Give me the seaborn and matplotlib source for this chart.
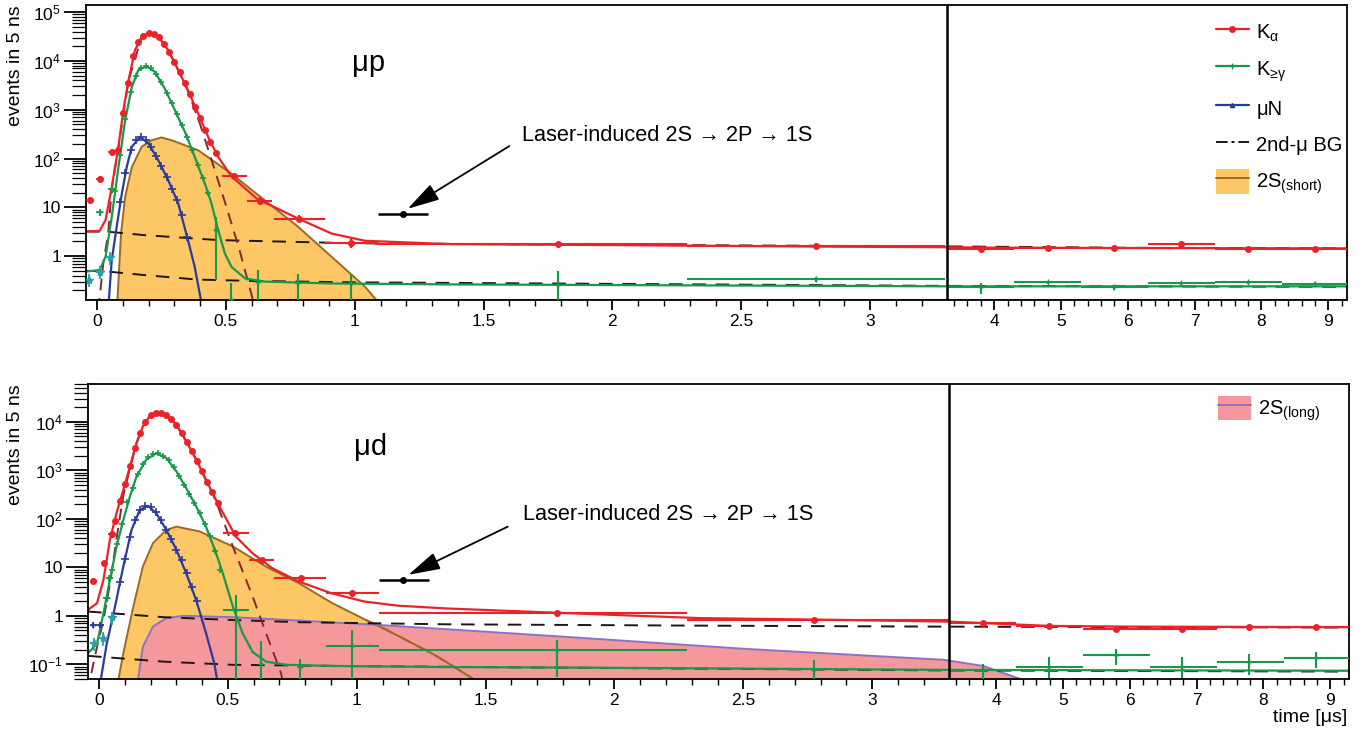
import numpy as np
import matplotlib
matplotlib.use("Agg")
import matplotlib.pyplot as plt
from matplotlib.lines import Line2D
from matplotlib.patches import Patch
from matplotlib.ticker import FixedLocator, FixedFormatter, NullFormatter, LogLocator
import seaborn as sns

sns.set_theme(style="ticks")
plt.rcParams['font.family'] = ['Liberation Sans', 'DejaVu Sans']
plt.rcParams['mathtext.fontset'] = 'custom'
plt.rcParams['mathtext.rm'] = 'Liberation Sans'
plt.rcParams['mathtext.it'] = 'Liberation Sans:italic'
plt.rcParams['text.color'] = 'black'
plt.rcParams['axes.edgecolor'] = 'black'
plt.rcParams['xtick.color'] = 'black'
plt.rcParams['ytick.color'] = 'black'

RED = '#ec2229'
GREEN = '#16994a'
BLUE = '#2b3b99'
CYAN = '#2a9fae'
DKRED = '#8b2430'
BGCOL = '#201414'
ORANGE = '#fdc766'
ORANGE_EDGE = '#9a6a22'
PINK = '#f4989b'
PINK_EDGE = '#8f70c4'

# ---------------- mu p (top) ----------------
p_ka_fit_x = [-0.043, 0.01, 0.033, 0.057, 0.083, 0.102, 0.122, 0.147, 0.173, 0.205, 0.237, 0.276,
              0.315, 0.353, 0.392, 0.431, 0.47, 0.52, 0.62, 0.78, 0.91, 1.04, 1.37, 2.0, 2.77, 3.3,
              4.0, 6.0, 9.3]
p_ka_fit_y = [3.2, 3.3, 5.5, 26, 174, 980, 4000, 16600, 31000, 38400, 32000, 16600,
              6500, 2500, 840, 277, 108, 44, 15, 5.9, 2.9, 2.06, 1.76, 1.68, 1.57, 1.52,
              1.49, 1.46, 1.44]
p_kg_fit_x = [-0.043, 0.01, 0.033, 0.057, 0.083, 0.109, 0.135, 0.16, 0.192, 0.224, 0.263, 0.302,
              0.341, 0.379, 0.418, 0.444, 0.47, 0.496, 0.522, 0.574, 0.652, 0.91, 1.37, 2.0, 3.3,
              5.0, 9.3]
p_kg_fit_y = [0.48, 0.52, 0.97, 6.4, 67, 610, 2940, 6500, 7800, 6000, 2700, 980,
              350, 108, 31, 12, 3.4, 1.13, 0.6, 0.35, 0.30, 0.275, 0.263, 0.255, 0.24,
              0.24, 0.24]
p_mun_fit_x = [0.043, 0.057, 0.076, 0.096, 0.115, 0.135, 0.167, 0.2, 0.237, 0.276, 0.315, 0.353,
               0.379, 0.41]
p_mun_fit_y = [0.08, 0.83, 4.0, 19, 67, 174, 277, 203, 93, 36, 12, 2.1, 0.6, 0.08]
p_prompt_x = [0.005, 0.024, 0.043, 0.057, 0.083, 0.122, 0.173, 0.205, 0.237, 0.276, 0.315, 0.353,
              0.40, 0.45, 0.50, 0.55, 0.615]
p_prompt_y = [0.08, 0.71, 2.9, 24, 170, 3950, 30900, 38300, 31900, 16500, 6400, 2400,
              500, 75, 11, 1.5, 0.08]
p_bg_hi_x = [-0.043, 0.045, 0.18, 0.47, 1.0, 2.0, 3.3, 6.0, 9.3]
p_bg_hi_y = [3.2, 3.15, 2.7, 2.13, 1.83, 1.7, 1.58, 1.48, 1.44]
p_bg_lo_x = [-0.043, 0.045, 0.18, 0.39, 0.6, 1.0, 2.0, 3.3, 9.3]
p_bg_lo_y = [0.5, 0.48, 0.41, 0.33, 0.31, 0.29, 0.27, 0.245, 0.235]
p_short_x = [0.078, 0.093, 0.109, 0.135, 0.173, 0.212, 0.25, 0.289, 0.392, 0.52, 0.65, 0.78,
             0.91, 1.04, 1.1]
p_short_y = [0.1, 2.9, 16.4, 67, 174, 237, 270, 237, 148, 49.5, 14, 4, 0.97, 0.235, 0.1]

p_ka_pk_x = [0.08, 0.10, 0.12, 0.14, 0.16, 0.18, 0.20, 0.22, 0.24, 0.26, 0.28, 0.30, 0.32, 0.34,
             0.36, 0.38, 0.40, 0.42, 0.44, 0.46]
p_ka_pk_y = [150, 850, 3600, 12500, 24000, 33000, 38000, 36000, 31000, 22000, 15000, 9500, 5800,
             3500, 2100, 1150, 680, 380, 220, 130]
p_kg_pk_x = [0.07, 0.09, 0.11, 0.13, 0.15, 0.17, 0.19, 0.21, 0.23, 0.25, 0.27, 0.29, 0.31, 0.33,
             0.35, 0.37, 0.39, 0.41, 0.43]
p_kg_pk_y = [22, 120, 650, 2300, 5000, 7000, 7900, 7200, 5400, 3700, 2200, 1350, 800, 480,
             270, 150, 75, 40, 20]
p_mun_pk_x = [0.09, 0.11, 0.13, 0.15, 0.17, 0.19, 0.21, 0.23, 0.25, 0.27, 0.29, 0.31, 0.33, 0.35]
p_mun_pk_y = [13, 50, 150, 240, 275, 240, 170, 110, 70, 42, 24, 14, 7, 2.5]

p_ka_early_x = [-0.028, 0.01, 0.057]
p_ka_early_y = [14, 38, 133]
p_kg_early_x = [0.01, 0.057]
p_kg_early_y = [7.9, 23.6]
p_cy_x = [-0.03, 0.01, 0.05]
p_cy_y = [0.33, 0.48, 0.95]

p_ka_bin_x = [0.53, 0.634, 0.784, 0.985, 1.787, 2.79, 3.80, 4.80, 5.80, 6.80, 7.80, 8.80]
p_ka_bin_y = [44, 13.4, 5.7, 1.82, 1.8, 1.6, 1.37, 1.46, 1.5, 1.79, 1.41, 1.37]
p_ka_bin_lo = [0.483, 0.583, 0.686, 0.884, 1.08, 2.29, 3.3, 4.3, 5.3, 6.3, 7.3, 8.3]
p_ka_bin_hi = [0.58, 0.68, 0.884, 1.085, 2.29, 3.29, 4.3, 5.3, 6.3, 7.3, 8.3, 9.3]
p_ka_bin_ylo = [38, 11.2, 4.9, 1.5, 1.7, 1.5, 1.28, 1.38, 1.42, 1.7, 1.33, 1.28]
p_ka_bin_yhi = [51, 16, 6.8, 2.3, 1.9, 1.7, 1.46, 1.54, 1.58, 1.88, 1.49, 1.46]

p_kg_bin_x = [0.46, 0.52, 0.625, 0.78, 0.985, 1.787, 2.79, 3.80, 4.81, 5.80, 6.80, 7.80, 8.80]
p_kg_bin_y = [3.4, 0.13, 0.29, 0.28, 0.28, 0.255, 0.338, 0.235, 0.289, 0.228, 0.28, 0.289, 0.27]
p_kg_bin_lo = [0.455, 0.515, 0.62, 0.775, 0.98, 1.78, 2.29, 3.3, 4.3, 5.3, 6.3, 7.3, 8.3]
p_kg_bin_hi = [0.465, 0.525, 0.63, 0.785, 0.99, 1.79, 3.29, 4.3, 5.3, 6.3, 7.3, 8.3, 9.3]
p_kg_bin_ylo = [0.32, 0.05, 0.05, 0.05, 0.05, 0.05, 0.3, 0.17, 0.27, 0.2, 0.26, 0.27, 0.25]
p_kg_bin_yhi = [6.4, 0.28, 0.53, 0.44, 0.44, 0.5, 0.37, 0.28, 0.31, 0.26, 0.3, 0.31, 0.29]

p_laser = (1.187, 7.15, 1.09, 1.285)

# ---------------- mu d (bottom) ----------------
d_ka_fit_x = [-0.043, -0.008, 0.017, 0.042, 0.068, 0.094, 0.12, 0.145, 0.17, 0.196, 0.228, 0.261,
              0.3, 0.338, 0.377, 0.415, 0.454, 0.492, 0.531, 0.595, 0.672, 0.775, 0.9, 1.03,
              1.16, 1.35, 1.81, 2.33, 2.84, 3.3, 3.8, 4.8, 6.0, 9.3]
d_ka_fit_y = [1.33, 1.83, 5.5, 37, 133, 395, 1200, 3630, 8000, 12900, 15800, 13800,
              8700, 4000, 1660, 640, 245, 103, 43, 19.6, 9.6, 5.1, 2.94, 1.97,
              1.62, 1.42, 1.14, 0.9, 0.83, 0.76, 0.71, 0.62, 0.6, 0.585]
d_kg_fit_x = [-0.043, -0.008, 0.017, 0.042, 0.068, 0.094, 0.12, 0.145, 0.183, 0.222, 0.261, 0.3,
              0.338, 0.377, 0.415, 0.454, 0.48, 0.519, 0.557, 0.596, 0.648, 0.725, 0.9, 1.35,
              2.0, 3.3, 9.3]
d_kg_fit_y = [0.17, 0.27, 1.13, 5.5, 27, 95, 290, 740, 1660, 2250, 1800, 950,
              430, 180, 69, 19.6, 7.6, 1.56, 0.44, 0.18, 0.114, 0.098, 0.093, 0.088,
              0.085, 0.077, 0.074]
d_mun_fit_x = [0.0, 0.03, 0.062, 0.094, 0.126, 0.158, 0.19, 0.222, 0.261, 0.3, 0.338, 0.377,
               0.415, 0.447, 0.465]
d_mun_fit_y = [0.03, 0.27, 1.56, 10.4, 59, 153, 185, 130, 59, 23, 7.6, 2.1, 0.44, 0.106, 0.03]
d_prompt_x = [-0.03, -0.008, 0.017, 0.042, 0.068, 0.094, 0.12, 0.145, 0.17, 0.196, 0.228, 0.261,
              0.3, 0.338, 0.377, 0.415, 0.454, 0.519, 0.596, 0.648, 0.706, 0.72]
d_prompt_y = [0.066, 0.23, 0.83, 4.5, 40, 300, 1100, 3600, 8000, 12900, 15800, 13800,
              8700, 4000, 1650, 620, 230, 27, 2.5, 0.44, 0.066, 0.03]
d_bg_hi_x = [-0.043, 0.25, 0.52, 0.78, 1.35, 2.3, 3.28, 9.3]
d_bg_hi_y = [1.23, 0.94, 0.82, 0.74, 0.67, 0.63, 0.60, 0.575]
d_bg_lo_x = [-0.043, 0.25, 0.52, 1.0, 3.3, 9.3]
d_bg_lo_y = [0.15, 0.114, 0.098, 0.092, 0.075, 0.071]
d_short_x = [0.068, 0.094, 0.133, 0.17, 0.209, 0.261, 0.3, 0.39, 0.519, 0.647, 0.776, 0.905,
             1.034, 1.12, 1.29, 1.35, 1.466]
d_short_y = [0.03, 0.17, 1.56, 10.4, 31.5, 59, 69, 55, 27, 10.4, 4.7, 1.83,
             0.83, 0.5, 0.17, 0.11, 0.045]
d_long_x = [0.145, 0.17, 0.209, 0.261, 0.326, 0.519, 0.776, 1.085, 1.35, 1.81, 2.5, 3.28, 3.8, 4.46]
d_long_y = [0.03, 0.23, 0.6, 0.9, 1.0, 0.94, 0.8, 0.65, 0.53, 0.37, 0.21, 0.124, 0.093, 0.045]

d_ka_pk_x = [0.06, 0.08, 0.10, 0.12, 0.14, 0.16, 0.18, 0.20, 0.22, 0.24, 0.26, 0.28, 0.30, 0.32,
             0.34, 0.36, 0.38, 0.40, 0.42, 0.44, 0.46]
d_ka_pk_y = [90, 230, 520, 1200, 2900, 6000, 10000, 13500, 15500, 15500, 14000, 11500, 8700, 6000,
             3900, 2500, 1550, 950, 570, 350, 210]
d_kg_pk_x = [0.05, 0.07, 0.09, 0.11, 0.13, 0.15, 0.17, 0.19, 0.21, 0.23, 0.25, 0.27, 0.29, 0.31,
             0.33, 0.35, 0.37, 0.39, 0.41, 0.43, 0.45, 0.47]
d_kg_pk_y = [9, 30, 80, 220, 430, 850, 1350, 1850, 2200, 2250, 2000, 1600, 1150, 750,
             500, 320, 210, 130, 80, 45, 22, 9]
d_mun_pk_x = [0.08, 0.10, 0.12, 0.14, 0.16, 0.18, 0.20, 0.22, 0.24, 0.26, 0.28, 0.30, 0.32, 0.34,
              0.36, 0.38]
d_mun_pk_y = [5, 15, 42, 95, 155, 185, 175, 135, 95, 60, 38, 23, 14, 7.5, 4, 2]

d_ka_early_x = [-0.022, 0.021, 0.049]
d_ka_early_y = [5.3, 12, 48]
d_kg_early_x = [0.03, 0.04]
d_kg_early_y = [2.3, 6]
d_mun_early_x = [-0.022, 0.005]
d_mun_early_y = [0.65, 0.65]
d_cy_x = [-0.02, 0.015, 0.05]
d_cy_y = [0.27, 0.35, 0.94]

d_ka_bin_x = [0.529, 0.631, 0.783, 0.982, 1.776, 2.776, 3.80, 4.79, 5.79, 6.78, 7.78, 8.78]
d_ka_bin_y = [50, 14, 5.9, 3.0, 1.17, 0.83, 0.707, 0.62, 0.547, 0.547, 0.60, 0.60]
d_ka_bin_lo = [0.48, 0.58, 0.68, 0.88, 1.085, 2.28, 3.3, 4.3, 5.3, 6.3, 7.3, 8.3]
d_ka_bin_hi = [0.58, 0.68, 0.88, 1.085, 2.28, 3.3, 4.3, 5.3, 6.3, 7.3, 8.3, 9.3]
d_ka_bin_ylo = [44, 12.3, 5.3, 2.7, 1.1, 0.79, 0.67, 0.59, 0.52, 0.52, 0.57, 0.57]
d_ka_bin_yhi = [56, 15.8, 6.5, 3.3, 1.24, 0.87, 0.74, 0.65, 0.57, 0.57, 0.63, 0.63]

d_kg_bin_x = [0.53, 0.63, 0.78, 0.98, 1.776, 2.776, 3.80, 4.79, 5.79, 6.78, 7.78, 8.78]
d_kg_bin_y = [1.33, 0.1, 0.09, 0.244, 0.2, 0.077, 0.077, 0.088, 0.157, 0.09, 0.114, 0.134]
d_kg_bin_lo = [0.48, 0.625, 0.775, 0.88, 1.085, 2.775, 3.795, 4.3, 5.3, 6.3, 7.3, 8.3]
d_kg_bin_hi = [0.58, 0.635, 0.785, 1.085, 2.28, 2.78, 3.805, 5.3, 6.3, 7.3, 8.3, 9.3]
d_kg_bin_ylo = [0.03, 0.03, 0.03, 0.03, 0.056, 0.048, 0.05, 0.052, 0.098, 0.052, 0.061, 0.083]
d_kg_bin_yhi = [2.7, 0.3, 0.13, 0.51, 0.32, 0.124, 0.1, 0.14, 0.206, 0.14, 0.165, 0.184]

d_laser = (1.18, 5.5, 1.085, 1.28)

# ---------------- broken time axis ----------------
BRK = 3.3
SQ = 66.8 / 257.6


def fwd(x):
    x = np.asarray(x, dtype=float)
    return np.where(x <= BRK, x, BRK + (x - BRK) * SQ)


def inv(u):
    u = np.asarray(u, dtype=float)
    return np.where(u <= BRK, u, BRK + (u - BRK) / SQ)


FLOOR = 1e-3


def fit(ax, x, y, color, lw=1.4, ls='-'):
    sns.lineplot(x=x, y=y, ax=ax, color=color, lw=lw, linestyle=ls,
                 estimator=None, errorbar=None, sort=False, legend=False)


def binned(ax, x, y, lo, hi, ylo, yhi, color, marker, ms):
    x = np.array(x); y = np.array(y)
    xerr = [x - np.array(lo), np.array(hi) - x]
    yerr = [y - np.array(ylo), np.array(yhi) - y]
    ax.errorbar(x, y, xerr=xerr, yerr=yerr, fmt=marker, color=color, ms=ms,
                elinewidth=1.5, capsize=0, zorder=4)


def dense(ax, x, y, color, marker, ms, mew=1.0):
    ax.plot(x, y, marker, color=color, ms=ms, mew=mew, zorder=4)


def early(ax, x, y, color, marker, ms, dx=0.014, rel=0.15):
    y = np.array(y)
    ax.errorbar(x, y, xerr=dx, yerr=[y * rel, y * rel], fmt=marker, color=color, ms=ms,
                elinewidth=1.3, capsize=0, zorder=4)


def style_axes(ax, ymin, ymax, yticks, ylabels):
    ax.set_xscale('function', functions=(fwd, inv))
    ax.set_yscale('log')
    ax.set_xlim(-0.043, 9.28)
    ax.set_ylim(ymin, ymax)
    major = [0, 0.5, 1, 1.5, 2, 2.5, 3, 4, 5, 6, 7, 8, 9]
    minor = [v for v in np.round(np.arange(0.1, 3.25, 0.1), 2) if v not in major]
    minor += [v for v in np.round(np.arange(3.4, 9.25, 0.2), 2) if v not in major]
    ax.xaxis.set_major_locator(FixedLocator(major))
    ax.xaxis.set_major_formatter(FixedFormatter(['0', '0.5', '1', '1.5', '2', '2.5', '3',
                                                 '4', '5', '6', '7', '8', '9']))
    ax.xaxis.set_minor_locator(FixedLocator(minor))
    ax.xaxis.set_minor_formatter(NullFormatter())
    ax.yaxis.set_major_locator(FixedLocator(yticks))
    ax.yaxis.set_major_formatter(FixedFormatter(ylabels))
    ax.yaxis.set_minor_locator(LogLocator(base=10, subs=np.arange(2, 10), numticks=30))
    ax.yaxis.set_minor_formatter(NullFormatter())
    ax.tick_params(axis='x', which='major', direction='out', length=7, width=1.3,
                   labelsize=12.5, pad=3, top=False)
    ax.tick_params(axis='x', which='minor', direction='out', length=4, width=1.0, top=False)
    ax.tick_params(axis='y', which='major', direction='out', length=16, width=1.3,
                   labelsize=12.5, pad=2, right=False)
    ax.tick_params(axis='y', which='minor', direction='out', length=10, width=0.9, right=False)
    for s in ax.spines.values():
        s.set_visible(True)
        s.set_color('black')
        s.set_linewidth(1.3)
    ax.axvline(BRK, color='black', lw=1.8, zorder=6)
    ax.set_xlabel('')
    ax.set_ylabel('')


LEG = dict(frameon=False, fontsize=14.5, handlelength=1.65, handleheight=1.5,
           handletextpad=0.35, borderaxespad=0, borderpad=0)

fig = plt.figure(figsize=(13.67, 7.34), dpi=100)
W, H = 1367.0, 734.0
ax1 = fig.add_axes([86 / W, 1 - 300 / H, 1261 / W, 295 / H])
ax2 = fig.add_axes([88 / W, 1 - 679 / H, 1261 / W, 295 / H])

# ---- top panel: mu p ----
ax = ax1
ax.fill_between(p_short_x, p_short_y, FLOOR, color=ORANGE, lw=0, zorder=1)
fit(ax, p_short_x, p_short_y, ORANGE_EDGE, lw=1.4)
ax.axhline(0.128, color=PINK_EDGE, lw=1.5, zorder=1)
fit(ax, p_bg_hi_x, p_bg_hi_y, BGCOL, lw=1.4, ls=(0, (7, 5)))
fit(ax, p_bg_lo_x, p_bg_lo_y, BGCOL, lw=1.4, ls=(0, (7, 5)))
fit(ax, p_prompt_x, p_prompt_y, DKRED, lw=1.4, ls=(0, (6, 4)))
fit(ax, p_mun_fit_x, p_mun_fit_y, BLUE, lw=1.6)
fit(ax, p_kg_fit_x, p_kg_fit_y, GREEN, lw=1.6)
fit(ax, p_ka_fit_x, p_ka_fit_y, RED, lw=1.6)
dense(ax, p_ka_pk_x, p_ka_pk_y, RED, 'o', 4)
dense(ax, p_kg_pk_x, p_kg_pk_y, GREEN, '+', 5, 1.2)
dense(ax, p_mun_pk_x, p_mun_pk_y, BLUE, '+', 6, 1.2)
early(ax, p_ka_early_x, p_ka_early_y, RED, 'o', 4)
early(ax, p_kg_early_x, p_kg_early_y, GREEN, '+', 5)
early(ax, p_cy_x, p_cy_y, CYAN, '*', 6, rel=0.3)
binned(ax, p_ka_bin_x, p_ka_bin_y, p_ka_bin_lo, p_ka_bin_hi, p_ka_bin_ylo, p_ka_bin_yhi, RED, 'o', 4)
binned(ax, p_kg_bin_x, p_kg_bin_y, p_kg_bin_lo, p_kg_bin_hi, p_kg_bin_ylo, p_kg_bin_yhi, GREEN, '+', 4)
ax.errorbar([p_laser[0]], [p_laser[1]], xerr=[[p_laser[0] - p_laser[2]], [p_laser[3] - p_laser[0]]],
            fmt='o', color='black', ms=4, elinewidth=1.8, capsize=0, zorder=5)
ax.annotate('', xy=(1.205, 9.3), xytext=(1.6, 180),
            arrowprops=dict(arrowstyle='-|>,head_length=1.1,head_width=0.3', color='black',
                            lw=1.3, shrinkA=0, shrinkB=0, mutation_scale=18))
ax.text(1.65, 300, 'Laser-induced 2S \u2192 2P \u2192 1S', fontsize=15.7, va='center', ha='left')
ax.text(0.99, 9000, '\u03bcp', fontsize=21, va='center', ha='left')
style_axes(ax, 0.126, 1.4e5, [1, 10, 100, 1e3, 1e4, 1e5],
           ['1', '10', '10$^{\\mathregular{2}}$', '10$^{\\mathregular{3}}$',
            '10$^{\\mathregular{4}}$', '10$^{\\mathregular{5}}$'])

handles = [
    Line2D([], [], color=RED, lw=1.6, marker='o', ms=4),
    Line2D([], [], color=GREEN, lw=1.6, marker='+', ms=5),
    Line2D([], [], color=BLUE, lw=1.6, marker='^', ms=3),
    Line2D([], [], color=BGCOL, lw=1.4, ls=(0, (6, 2, 1.5, 2, 6, 3))),
    (Patch(facecolor=ORANGE, edgecolor='none'), Line2D([], [], color=ORANGE_EDGE, lw=1.4)),
]
labels = ['K$_{\\mathregular{\u03b1}}$', 'K$_{\\mathregular{\u2265\u03b3}}$', '\u03bcN',
          '2nd-\u03bc BG', '2S$_{\\mathregular{(short)}}$']
ax.legend(handles, labels, loc='upper left', bbox_to_anchor=(0.896, 0.95),
          labelspacing=0.6, **LEG)

# ---- bottom panel: mu d ----
ax = ax2
ax.fill_between(d_short_x, d_short_y, FLOOR, color=ORANGE, lw=0, zorder=1)
fit(ax, d_short_x, d_short_y, ORANGE_EDGE, lw=1.4)
ax.fill_between(d_long_x, d_long_y, FLOOR, color=PINK, lw=0, zorder=1.5)
fit(ax, d_long_x, d_long_y, PINK_EDGE, lw=1.4)
mask = np.array(d_short_x) >= 1.03
fit(ax, list(np.array(d_short_x)[mask]), list(np.array(d_short_y)[mask]), ORANGE_EDGE,
    lw=1.4, ls=(0, (6, 4)))
fit(ax, d_bg_hi_x, d_bg_hi_y, BGCOL, lw=1.4, ls=(0, (7, 5)))
fit(ax, d_bg_lo_x, d_bg_lo_y, BGCOL, lw=1.4, ls=(0, (7, 5)))
fit(ax, d_prompt_x, d_prompt_y, DKRED, lw=1.4, ls=(0, (6, 4)))
fit(ax, d_mun_fit_x, d_mun_fit_y, BLUE, lw=1.6)
fit(ax, d_kg_fit_x, d_kg_fit_y, GREEN, lw=1.6)
fit(ax, d_ka_fit_x, d_ka_fit_y, RED, lw=1.6)
dense(ax, d_ka_pk_x, d_ka_pk_y, RED, 'o', 4)
dense(ax, d_kg_pk_x, d_kg_pk_y, GREEN, '+', 5, 1.2)
dense(ax, d_mun_pk_x, d_mun_pk_y, BLUE, '+', 6, 1.2)
early(ax, d_ka_early_x, d_ka_early_y, RED, 'o', 4)
early(ax, d_kg_early_x, d_kg_early_y, GREEN, '+', 5)
early(ax, d_mun_early_x, d_mun_early_y, BLUE, '+', 5)
early(ax, d_cy_x, d_cy_y, CYAN, '*', 6, rel=0.3)
binned(ax, d_ka_bin_x, d_ka_bin_y, d_ka_bin_lo, d_ka_bin_hi, d_ka_bin_ylo, d_ka_bin_yhi, RED, 'o', 4)
binned(ax, d_kg_bin_x, d_kg_bin_y, d_kg_bin_lo, d_kg_bin_hi, d_kg_bin_ylo, d_kg_bin_yhi, GREEN, '+', 4)
ax.errorbar([d_laser[0]], [d_laser[1]], xerr=[[d_laser[0] - d_laser[2]], [d_laser[3] - d_laser[0]]],
            fmt='o', color='black', ms=4, elinewidth=1.8, capsize=0, zorder=5)
ax.annotate('', xy=(1.2, 7.0), xytext=(1.586, 69),
            arrowprops=dict(arrowstyle='-|>,head_length=1.1,head_width=0.3', color='black',
                            lw=1.3, shrinkA=0, shrinkB=0, mutation_scale=18))
ax.text(1.647, 120, 'Laser-induced 2S \u2192 2P \u2192 1S', fontsize=15.7, va='center', ha='left')
ax.text(0.99, 3000, '\u03bcd', fontsize=21, va='center', ha='left')
style_axes(ax, 0.05, 6e4, [0.1, 1, 10, 100, 1e3, 1e4],
           ['10$^{\\mathregular{-1}}$', '1', '10', '10$^{\\mathregular{2}}$',
            '10$^{\\mathregular{3}}$', '10$^{\\mathregular{4}}$'])
ax.legend([(Patch(facecolor=PINK, edgecolor='none'), Line2D([], [], color=PINK_EDGE, lw=1.4))],
          ['2S$_{\\mathregular{(long)}}$'], loc='upper left', bbox_to_anchor=(0.896, 0.96), **LEG)

fig.text(16 / W, 1 - 5 / H, 'events in 5 ns', rotation=90, ha='center', va='top', fontsize=14)
fig.text(16 / W, 1 - 384 / H, 'events in 5 ns', rotation=90, ha='center', va='top', fontsize=14)
fig.text(1347 / W, 1 - 718 / H, 'time [\u03bcs]', ha='right', va='center', fontsize=14)

fig.savefig('out.png', dpi=100)
